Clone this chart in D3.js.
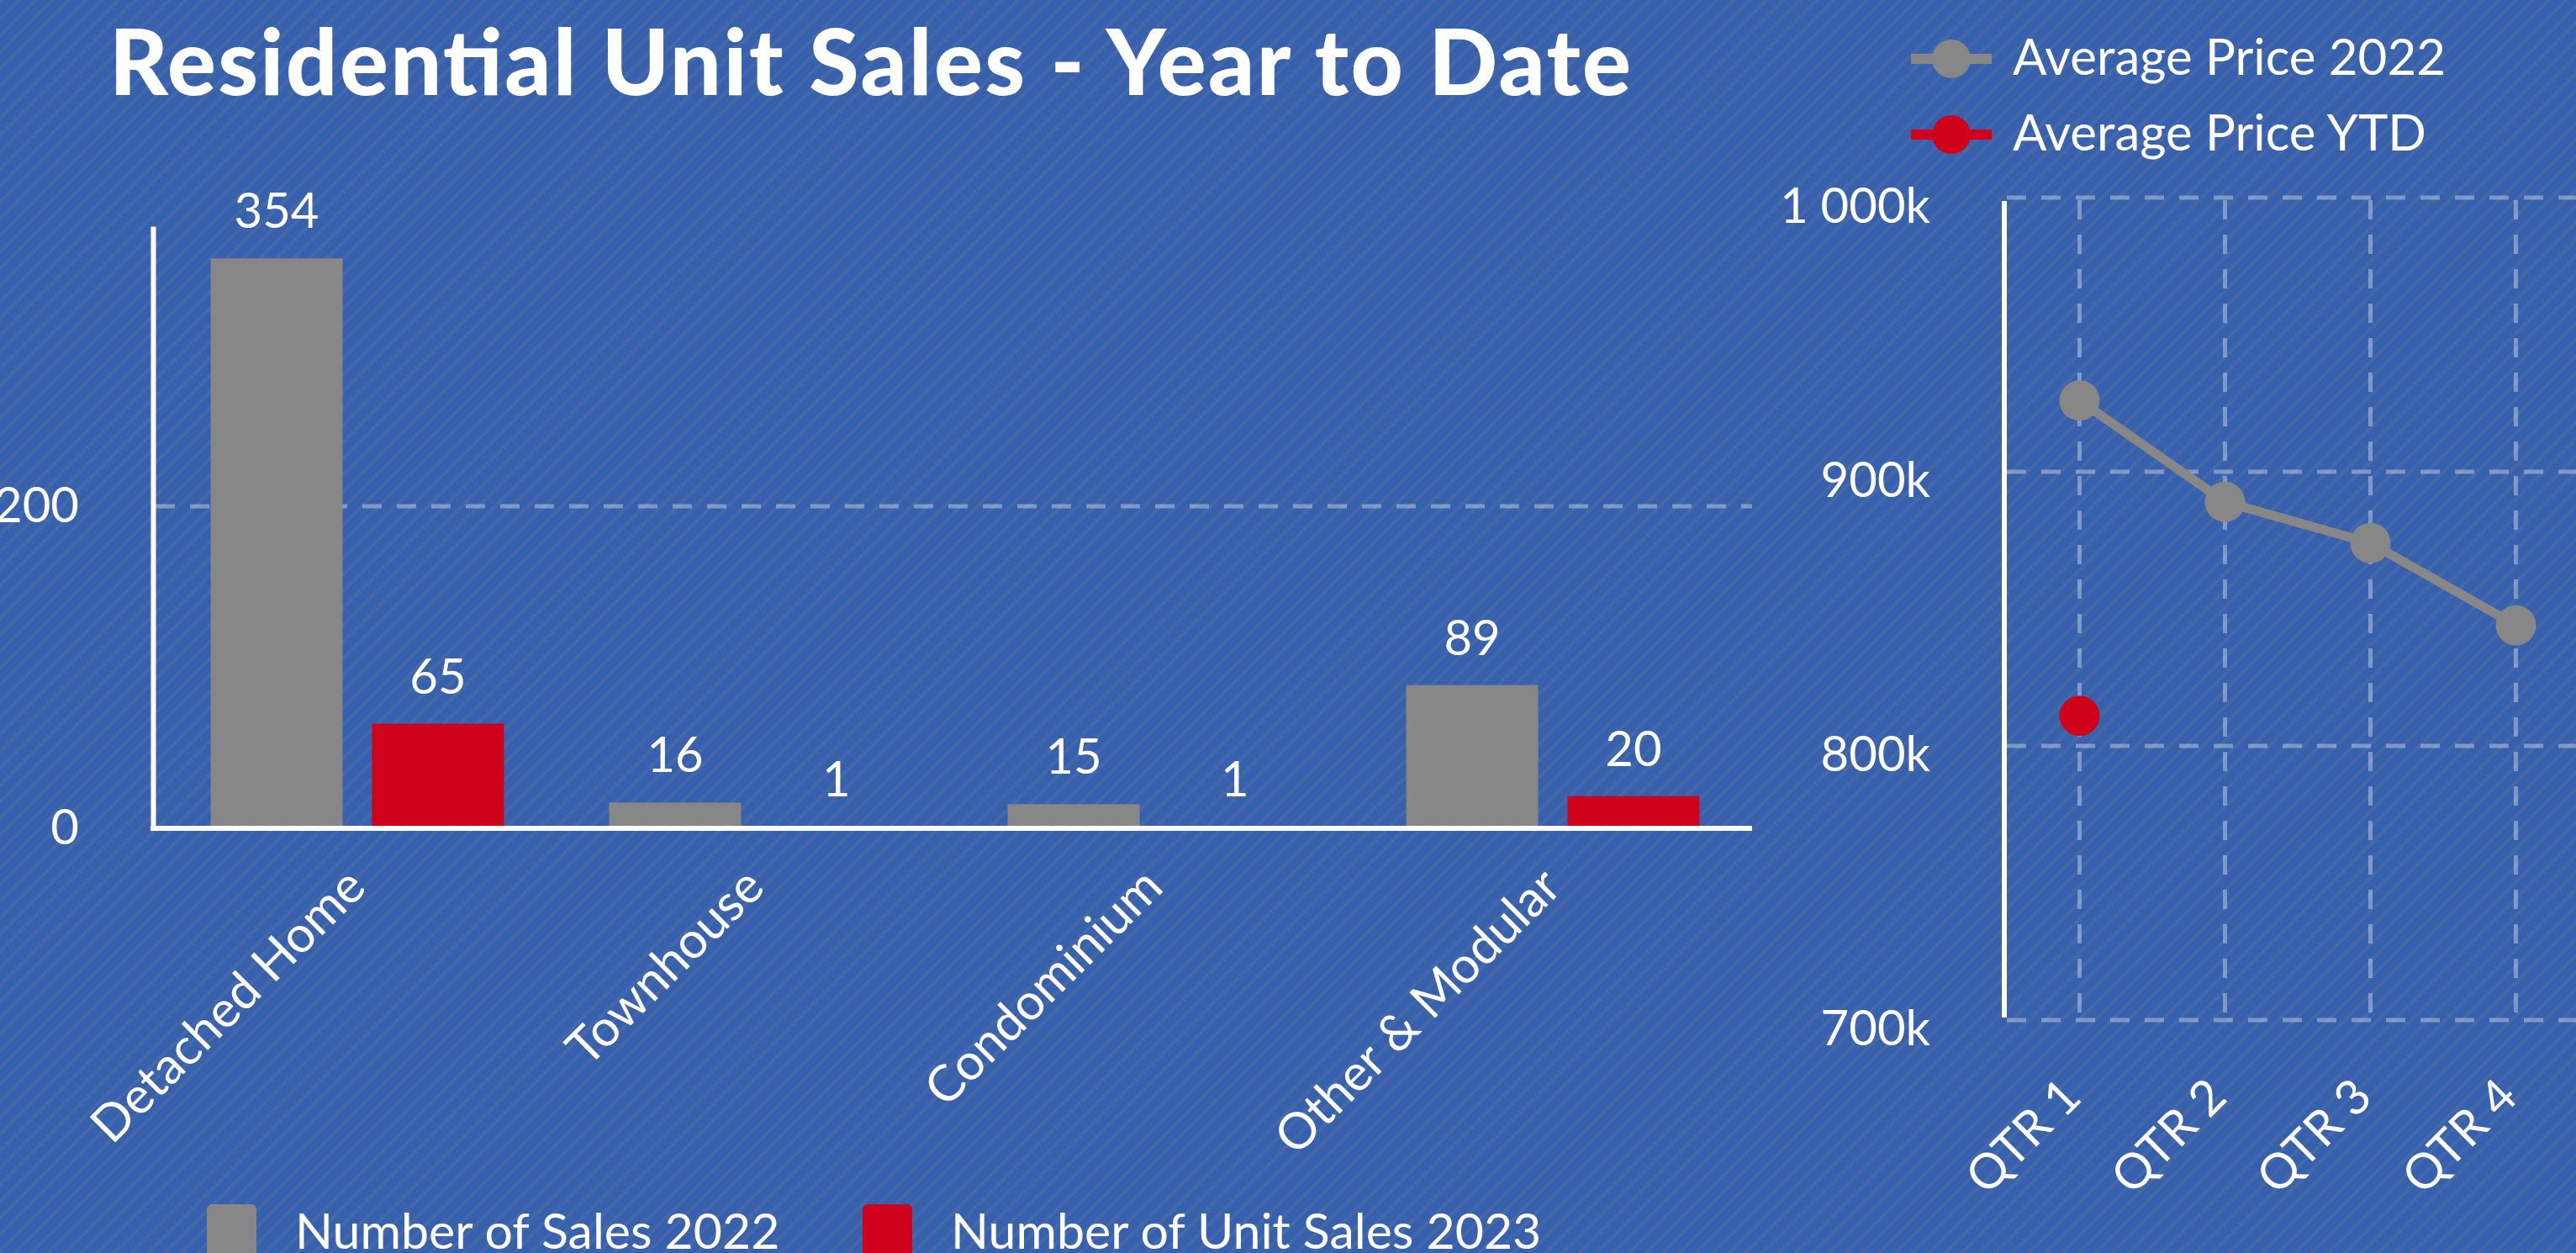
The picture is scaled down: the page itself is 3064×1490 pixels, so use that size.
<!DOCTYPE html>
<html>
<head>
<meta charset="utf-8">
<script src="https://cdn.jsdelivr.net/npm/d3@7"></script>
<style>
html, body { margin: 0; padding: 0; background: #3761ad; overflow: hidden; }
svg { display: block; }
text { font-family: Lato, "Open Sans", sans-serif; fill: #fff; }
</style>
</head>
<body>
<svg></svg>
<script>
//	bar chart data
var categories = ["Detached Home", "Townhouse", "Condominium", "Other & Modular"];
var sales2022 = [354, 16, 15, 89];
var sales2023 = [65, 1, 1, 20];
var salesSeries = ["Number of Sales 2022", "Number of Unit Sales 2023"];
var salesTicks = [0, 200];

//	line chart data
var quarters = ["QTR 1", "QTR 2", "QTR 3", "QTR 4"];
var avgPrice2022 = [926000, 889000, 874000, 844000];
var avgPriceYTD = [811000];
var priceSeries = ["Average Price 2022", "Average Price YTD"];
var priceTicks = [700000, 800000, 900000, 1000000];
var priceTickLabels = ["700k", "800k", "900k", "1 000k"];

var colors = ["#878787", "#d0021b"];

var width = 3064, height = 1490;
var svg = d3.select("svg").attr("width", width).attr("height", height);

//	striped background
var defs = svg.append("defs");
var pat = defs.append("pattern")
    .attr("id", "stripes")
    .attr("width", 14).attr("height", 14)
    .attr("patternUnits", "userSpaceOnUse")
    .attr("patternTransform", "rotate(45)");
pat.append("rect").attr("width", 14).attr("height", 14).attr("fill", "#3761ad");
pat.append("rect").attr("width", 4).attr("height", 14).attr("fill", "#5470a6").attr("opacity", 0.5);
svg.append("rect").attr("width", width).attr("height", height).attr("fill", "url(#stripes)");

var gridStyle = function(sel) {
    sel.attr("stroke", "rgba(255,255,255,0.35)")
        .attr("stroke-width", 5)
        .attr("stroke-dasharray", "23,18");
};

//	title
svg.append("text")
    .attr("x", 130).attr("y", 113)
    .attr("font-size", 108)
    .attr("font-weight", 900)
    .attr("textLength", 1810)
    .attr("lengthAdjust", "spacing")
    .text("Residential Unit Sales - Year to Date");

// ---------------- bar chart ----------------
var barLeft = 182, barRight = 2084, barBottom = 985, barTop = 269;

var x0 = d3.scaleBand()
    .domain(categories)
    .range([188, barRight])
    .paddingInner(0.264)
    .paddingOuter(0.132);

var x1 = d3.scaleBand()
    .domain([0, 1])
    .range([0, x0.bandwidth()])
    .paddingInner(0.182);

var y = d3.scaleLinear().domain([0, 374]).range([barBottom, barTop]);

var bars = svg.append("g");

//	grid
bars.append("g").selectAll("line")
    .data(salesTicks.filter(function(d) { return d > 0; }))
    .enter().append("line")
    .attr("x1", barLeft + 3).attr("x2", barRight)
    .attr("y1", function(d) { return y(d); })
    .attr("y2", function(d) { return y(d); })
    .call(gridStyle);

//	y axis
var yAxis = bars.append("g")
    .attr("transform", "translate(" + barLeft + ",0)")
    .call(d3.axisLeft(y).tickValues(salesTicks).tickSize(0).tickPadding(88));
yAxis.select(".domain").attr("stroke", "#fff").attr("stroke-width", 6);
yAxis.selectAll(".tick text")
    .attr("font-size", 58)
    .attr("font-family", "Lato, sans-serif")
    .attr("fill", "#fff");

var rows = categories.map(function(c, i) {
    return { cat: c, values: [sales2022[i], sales2023[i]] };
});

var group = bars.append("g").selectAll("g")
    .data(rows)
    .enter().append("g")
    .attr("transform", function(d) { return "translate(" + x0(d.cat) + ",0)"; });

group.selectAll("rect")
    .data(function(d) { return d.values.map(function(v, k) { return { k: k, v: v }; }); })
    .enter().append("rect")
    .attr("x", function(d) { return x1(d.k); })
    .attr("width", x1.bandwidth())
    .attr("y", function(d) { return y(d.v); })
    .attr("height", function(d) { return barBottom - y(d.v); })
    .attr("fill", function(d) { return colors[d.k]; });

group.selectAll("text")
    .data(function(d) { return d.values.map(function(v, k) { return { k: k, v: v }; }); })
    .enter().append("text")
    .attr("x", function(d) { return x1(d.k) + x1.bandwidth() / 2; })
    .attr("y", function(d) { return y(d.v) - 36; })
    .attr("text-anchor", "middle")
    .attr("font-size", 58)
    .text(function(d) { return d.v; });

//	x axis
var xAxis = bars.append("g")
    .attr("transform", "translate(0," + barBottom + ")")
    .call(d3.axisBottom(x0).tickSize(0).tickPadding(0));
xAxis.select(".domain").remove();
xAxis.append("line")
    .attr("x1", barLeft - 3).attr("x2", barRight)
    .attr("stroke", "#fff").attr("stroke-width", 6);
xAxis.selectAll(".tick text")
    .attr("font-size", 60)
    .attr("font-family", "Lato, sans-serif")
    .attr("fill", "#fff")
    .attr("text-anchor", "end")
    .attr("dy", "0.35em")
    .attr("transform", "translate(-2,58) rotate(-45)");

//	bottom legend
var legendX = [246, 1026];
var bl = svg.append("g").selectAll("g")
    .data(salesSeries)
    .enter().append("g")
    .attr("transform", function(d, i) { return "translate(" + legendX[i] + ",1432)"; });
bl.append("rect")
    .attr("width", 59).attr("height", 80).attr("rx", 6)
    .attr("fill", function(d, i) { return colors[i]; });
bl.append("text")
    .attr("x", 105).attr("y", 53)
    .attr("font-size", 59)
    .text(function(d) { return d; });

// ---------------- line chart ----------------
var lineLeft = 2384, lineTop = 235, lineBottom = 1213;

var xq = d3.scalePoint()
    .domain(quarters)
    .range([2387, 3079])
    .padding(0.5);

var yp = d3.scaleLinear().domain([700000, 1000000]).range([lineBottom, lineTop]);

var lc = svg.append("g");

//	grid
lc.append("g").selectAll("line")
    .data(priceTicks)
    .enter().append("line")
    .attr("x1", lineLeft + 3).attr("x2", width + 20)
    .attr("y1", function(d) { return yp(d); })
    .attr("y2", function(d) { return yp(d); })
    .call(gridStyle);

lc.append("g").selectAll("line")
    .data(quarters)
    .enter().append("line")
    .attr("x1", function(d) { return xq(d); })
    .attr("x2", function(d) { return xq(d); })
    .attr("y1", lineTop + 3).attr("y2", lineBottom)
    .call(gridStyle);

//	y axis
var pAxis = lc.append("g")
    .attr("transform", "translate(" + lineLeft + ",0)")
    .call(d3.axisLeft(yp).tickValues(priceTicks)
        .tickFormat(function(d, i) { return priceTickLabels[i]; })
        .tickSize(0).tickPadding(88));
pAxis.select(".domain").attr("stroke", "#fff").attr("stroke-width", 6)
    .attr("d", "M0," + (lineBottom - 3) + "V" + (lineTop + 4));
pAxis.selectAll(".tick text")
    .attr("font-size", 58)
    .attr("font-family", "Lato, sans-serif")
    .attr("fill", "#fff")
    .attr("dy", "0.5em");

//	x axis labels
var qAxis = lc.append("g")
    .attr("transform", "translate(0," + lineBottom + ")")
    .call(d3.axisBottom(xq).tickSize(0).tickPadding(0));
qAxis.select(".domain").remove();
qAxis.selectAll(".tick text")
    .attr("font-size", 58)
    .attr("font-family", "Lato, sans-serif")
    .attr("fill", "#fff")
    .attr("text-anchor", "end")
    .attr("dy", "0.35em")
    .attr("transform", "translate(-10,80) rotate(-45)");

//	series
var line = d3.line()
    .x(function(d, i) { return xq(quarters[i]); })
    .y(function(d) { return yp(d); });

lc.append("path")
    .datum(avgPrice2022)
    .attr("d", line)
    .attr("fill", "none")
    .attr("stroke", colors[0])
    .attr("stroke-width", 11);

lc.append("g").selectAll("circle")
    .data(avgPrice2022)
    .enter().append("circle")
    .attr("cx", function(d, i) { return xq(quarters[i]); })
    .attr("cy", function(d) { return yp(d); })
    .attr("r", 24)
    .attr("fill", colors[0]);

lc.append("g").selectAll("circle")
    .data(avgPriceYTD)
    .enter().append("circle")
    .attr("cx", function(d, i) { return xq(quarters[i]); })
    .attr("cy", function(d) { return yp(d); })
    .attr("r", 24)
    .attr("fill", colors[1]);

//	top legend
var tl = svg.append("g").selectAll("g")
    .data(priceSeries)
    .enter().append("g")
    .attr("transform", function(d, i) { return "translate(2273," + (70 + i * 90) + ")"; });
tl.append("line")
    .attr("x1", 0).attr("x2", 96)
    .attr("stroke", function(d, i) { return colors[i]; })
    .attr("stroke-width", 12);
tl.append("circle")
    .attr("cx", 48).attr("r", 23)
    .attr("fill", function(d, i) { return colors[i]; });
tl.append("text")
    .attr("x", 121).attr("y", 19)
    .attr("font-size", 60)
    .text(function(d) { return d; });
</script>
</body>
</html>
